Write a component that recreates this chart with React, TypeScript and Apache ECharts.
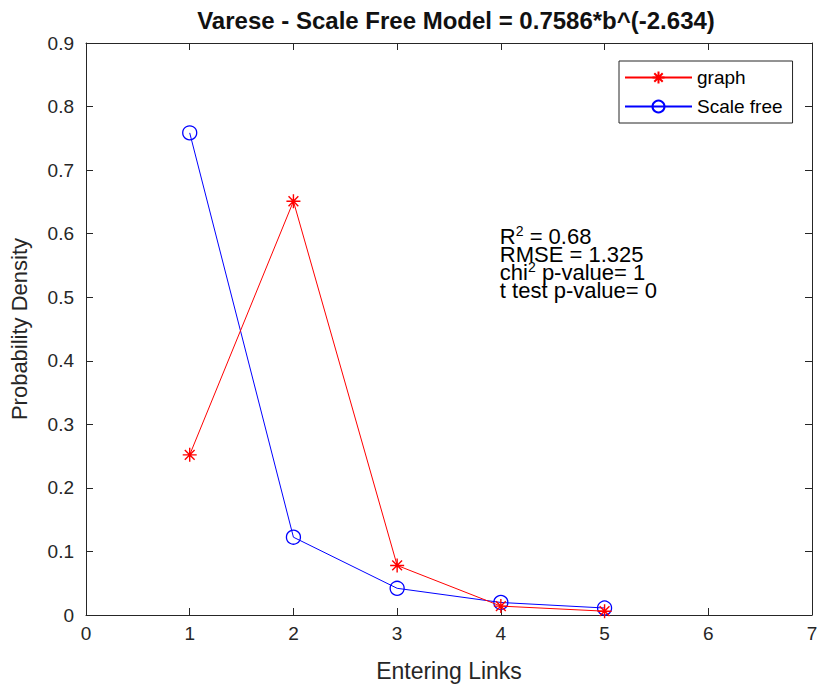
import React, { useEffect, useRef } from "react";
import * as echarts from "echarts";

const titleText = "Varese - Scale Free Model = 0.7586*b^(-2.634)";
const xLabel = "Entering Links";
const yLabel = "Probability Density";
const links = [1, 2, 3, 4, 5];
const graphValues = [0.252, 0.651, 0.078, 0.014, 0.006];
const scaleFreeValues = [0.7586, 0.1224, 0.042, 0.0197, 0.011];
const seriesNames = ["graph", "Scale free"];
const rSquared = "0.68";
const rmse = "1.325";
const chiP = "1";
const tP = "0";
const annotationAnchor = [4, 0.6];

const FONT = "'Liberation Sans', Arial, Helvetica, sans-serif";
const AX = "#262626";
const STAR =
  "path://M5 0 L5 10 M0 5 L10 5 M1.5 1.5 L8.5 8.5 M1.5 8.5 L8.5 1.5";

export default function App() {
  const ref = useRef<HTMLDivElement>(null);
  useEffect(() => {
    if (!ref.current) return;
    const chart = echarts.init(ref.current, null, { renderer: "svg" });
    const tickLabel = { color: AX, fontSize: 19, fontFamily: FONT };
    const mkTick = () => ({ show: true, inside: true, length: 7, lineStyle: { color: AX, width: 1 } });
    const mkLine = () => ({ show: true, onZero: false, lineStyle: { color: AX, width: 1 } });
    chart.setOption({
      animation: false,
      backgroundColor: "#fff",
      grid: { left: 86, right: 9, top: 43, bottom: 70, containLabel: false, outerBoundsMode: "none" },
      xAxis: [
        {
          type: "value", min: 0, max: 7, interval: 1, position: "bottom",
          axisLine: mkLine(), axisTick: mkTick(), splitLine: { show: false },
          axisLabel: { ...tickLabel, margin: 9 },
          name: xLabel, nameLocation: "middle", nameGap: 44,
          nameTextStyle: { color: AX, fontSize: 23, fontFamily: FONT },
        },
        {
          type: "value", min: 0, max: 7, interval: 1, position: "top",
          axisLine: mkLine(), axisTick: mkTick(), splitLine: { show: false },
          axisLabel: { show: false },
        },
      ],
      yAxis: [
        {
          type: "value", min: 0, max: 0.9, interval: 0.1, position: "left",
          axisLine: mkLine(), axisTick: mkTick(), splitLine: { show: false },
          axisLabel: { ...tickLabel, margin: 12, formatter: (v: number) => (v === 0 ? "0" : v.toFixed(1)) },
          name: yLabel, nameLocation: "middle", nameGap: 56,
          nameTextStyle: { color: AX, fontSize: 22, fontFamily: FONT },
        },
        {
          type: "value", min: 0, max: 0.9, interval: 0.1, position: "right",
          axisLine: mkLine(), axisTick: mkTick(), splitLine: { show: false },
          axisLabel: { show: false },
        },
      ],
      legend: {
        left: 619, top: 61, orient: "vertical",
        backgroundColor: "#fff", borderColor: AX, borderWidth: 1,
        padding: [7, 10, 7, 5], itemGap: 10, itemWidth: 67, itemHeight: 15,
        textStyle: { color: "#000", fontSize: 19, fontFamily: FONT },
        data: seriesNames,
      },
      series: [
        {
          name: seriesNames[0], type: "line",
          data: links.map((x, i) => [x, graphValues[i]]),
          symbol: STAR, symbolSize: 14,
          lineStyle: { color: "#ff0000", width: 1 },
          itemStyle: { color: "transparent", borderColor: "#ff0000", borderWidth: 1.4 },
          z: 3,
        },
        {
          name: seriesNames[1], type: "line",
          data: links.map((x, i) => [x, scaleFreeValues[i]]),
          symbol: "circle", symbolSize: 14,
          lineStyle: { color: "#0000ff", width: 1 },
          itemStyle: { color: "transparent", borderColor: "#0000ff", borderWidth: 1.3 },
          z: 2,
        },
      ],
    });

    const p = chart.convertToPixel({ xAxisIndex: 0, yAxisIndex: 0 }, annotationAnchor) as number[];
    const rich = {
      a: { fontSize: 22, fontFamily: FONT, color: "#000", lineHeight: 18 },
      s: { fontSize: 14, fontFamily: FONT, color: "#000", lineHeight: 18, padding: [0, 0, 12, 0] },
    };
    const text = [
      `{a|R}{s|2}{a| = ${rSquared}}`,
      `{a|RMSE = ${rmse}}`,
      `{a|chi}{s|2}{a| p-value= ${chiP}}`,
      `{a|t test p-value= ${tP}}`,
    ].join("\n");
    chart.setOption({
      graphic: [
        {
          type: "text", x: 456, y: 20,
          style: { text: titleText, font: `bold 24px ${FONT}`, fill: "#111", align: "center", verticalAlign: "middle" },
        },
        {
          type: "text", x: p[0] - 1, y: p[1] - 6,
          style: { text, rich, align: "left", verticalAlign: "top" },
        },
      ],
    });
    return () => chart.dispose();
  }, []);
  return <div ref={ref} style={{ position: "fixed", left: 0, top: 0, width: 821, height: 685 }} />;
}
